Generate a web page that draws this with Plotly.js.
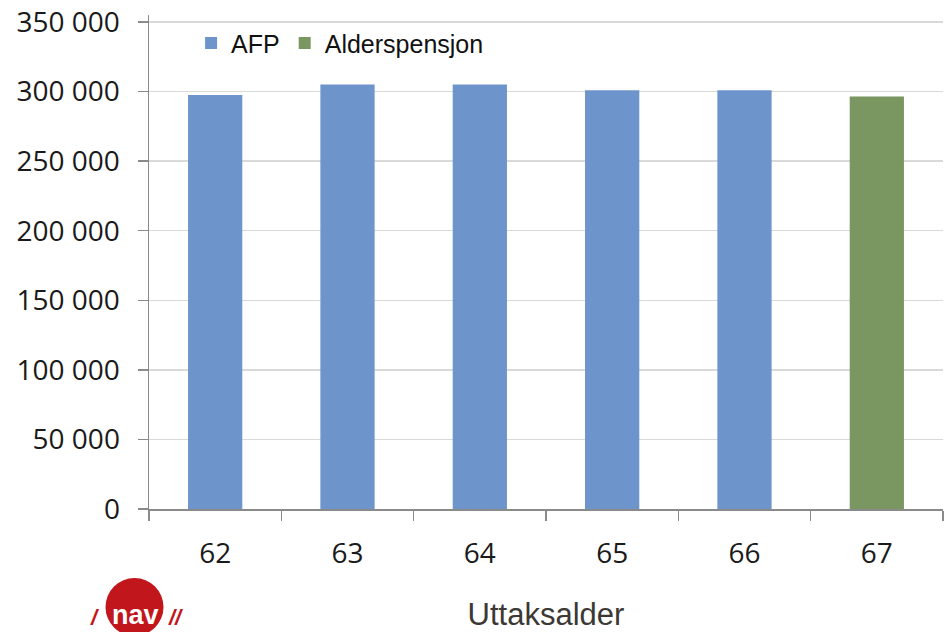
<!DOCTYPE html>
<html>
<head>
<meta charset="utf-8">
<script src="https://cdn.plot.ly/plotly-3.0.1.min.js"></script>
<style>
html,body{margin:0;padding:0;background:#fff;}
#chart{width:944px;height:632px;}
</style>
</head>
<body>
<div id="chart"></div>
<script>
var categories = ['62', '63', '64', '65', '66', '67'];
var afpValues = [297500, 305000, 305000, 301000, 301000, null];
var alderValues = [null, null, null, null, null, 296500];
var yTickVals = [0, 50000, 100000, 150000, 200000, 250000, 300000, 350000];
var yTickText = ['0', '50 000', '100 000', '150 000', '200 000', '250 000', '300 000', '350 000'];
var seriesNames = ['AFP', 'Alderspensjon'];
var xTitle = 'Uttaksalder';

var traces = [
  {type: 'bar', name: seriesNames[0], x: categories, y: afpValues, width: 0.41,
   marker: {color: '#6d95cc'}, hoverinfo: 'x+y'},
  {type: 'bar', name: seriesNames[1], x: categories, y: alderValues, width: 0.41,
   marker: {color: '#7b9761'}, hoverinfo: 'x+y'}
];

var layout = {
  width: 944, height: 632,
  margin: {l: 148.5, r: 1, t: 15, b: 123, pad: 0},
  paper_bgcolor: '#ffffff', plot_bgcolor: '#ffffff',
  barmode: 'overlay',
  showlegend: true,
  legend: {orientation: 'h', x: 0.053, y: 0.943, xanchor: 'left', yanchor: 'middle',
           bgcolor: 'rgba(0,0,0,0)', font: {family: 'Liberation Sans, Arial, sans-serif', size: 25, color: '#111'},
           itemclick: false, traceorder: 'normal'},
  xaxis: {
    type: 'category', tickson: 'boundaries', ticks: 'outside', ticklen: 10, tickwidth: 1.5, tickcolor: '#8a8a8a',
    showline: true, linecolor: '#8a8a8a', linewidth: 1.5, showgrid: false, zeroline: false,
    tickfont: {family: 'Open Sans, sans-serif', size: 28, color: '#1a1a1a'},
    ticklabelstandoff: 19,
    title: {text: xTitle, font: {family: 'Liberation Sans, Arial, sans-serif', size: 31, color: '#3c3834'}, standoff: 37},
    automargin: false
  },
  yaxis: {
    range: [0, 355000], tickvals: yTickVals, ticktext: yTickText,
    ticks: 'outside', ticklen: 10, tickwidth: 1.5, tickcolor: '#8a8a8a',
    showline: true, linecolor: '#8a8a8a', linewidth: 1.5,
    showgrid: true, gridcolor: '#d9d9d9', gridwidth: 1.5, zeroline: false,
    tickfont: {family: 'Open Sans, sans-serif', size: 28, color: '#1a1a1a'},
    ticklabelstandoff: 12,
    automargin: false
  },
  shapes: [
    {type: 'circle', xref: 'paper', yref: 'paper', x0: -0.0548, x1: 0.0183, y0: -0.2571, y1: -0.1397,
     fillcolor: '#c1161c', line: {width: 0}, layer: 'above'}
  ],
  annotations: [
    {xref: 'paper', yref: 'paper', x: -0.0170, y: -0.2480, text: '<b>nav</b>', showarrow: false,
     font: {family: 'Liberation Sans, Arial, sans-serif', size: 27, color: '#ffffff'}, xanchor: 'center', yanchor: 'bottom'},
    {xref: 'paper', yref: 'paper', x: -0.0680, y: -0.2480, text: '<b><i>/</i></b>', showarrow: false,
     font: {family: 'Liberation Sans, Arial, sans-serif', size: 22, color: '#c1161c'}, xanchor: 'center', yanchor: 'bottom'},
    {xref: 'paper', yref: 'paper', x: 0.0340, y: -0.2480, text: '<b><i>//</i></b>', showarrow: false,
     font: {family: 'Liberation Sans, Arial, sans-serif', size: 22, color: '#c1161c'}, xanchor: 'center', yanchor: 'bottom'}
  ]
};

Plotly.newPlot('chart', traces, layout, {displayModeBar: false, staticPlot: true});
</script>
</body>
</html>
